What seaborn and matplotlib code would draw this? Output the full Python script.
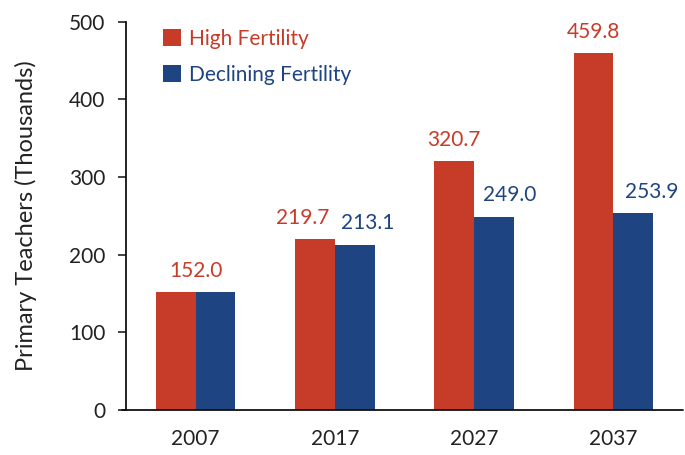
import matplotlib
matplotlib.use("Agg")
import matplotlib.pyplot as plt
import seaborn as sns
import pandas as pd
from matplotlib.patches import Patch

years = ["2007", "2017", "2027", "2037"]
high = [152.0, 219.7, 320.7, 459.8]
declining = [152.0, 213.1, 249.0, 253.9]
series = ["High Fertility", "Declining Fertility"]
colors = ["#C73B29", "#1F4482"]

# label nudges (points) to keep value labels apart, as in the reference
high_dx = [0, -9, 0, 0]
decl_dx = [0, 9, 11, 13]

df = pd.DataFrame({
    "year": years * 2,
    "value": high + declining,
    "series": [series[0]] * 4 + [series[1]] * 4,
})

sns.set_theme(style="white")
plt.rcParams["font.family"] = ["Lato", "DejaVu Sans"]

FS = 15

fig = plt.figure(figsize=(6.85, 4.55), dpi=100)
ax = fig.add_axes([0.184, 0.099, 0.813, 0.853])

sns.barplot(data=df, x="year", y="value", hue="series", palette=colors,
            width=0.57, gap=0, ax=ax, legend=False, saturation=1, linewidth=0)

ax.set_ylim(0, 500)
ax.set_xlim(-0.5, 3.5)
ax.set_yticks([0, 100, 200, 300, 400, 500])
ax.tick_params(axis="y", labelsize=FS, length=6, width=1.2, colors="#222222", pad=9, direction="out", left=True)
ax.tick_params(axis="x", labelsize=FS, length=0, pad=14, colors="#222222")
ax.set_xlabel("")
ax.set_ylabel("Primary Teachers (Thousands)", fontsize=17, color="#222222", labelpad=23)

for s in ["top", "right", "bottom"]:
    ax.spines[s].set_visible(False)
ax.spines["left"].set_color("#111111")
ax.spines["left"].set_linewidth(1.3)
ax.plot([-0.008, 1.0], [0, 0], transform=ax.transAxes, color="#111111", lw=1.3, clip_on=False)

# value labels
off = 0.143
for i, (h, d) in enumerate(zip(high, declining)):
    if h == d:
        ax.annotate(f"{h:.1f}", (i, h), xytext=(0, 11), textcoords="offset points",
                    ha="center", va="baseline", color=colors[0], fontsize=FS)
    else:
        ax.annotate(f"{h:.1f}", (i - off, h), xytext=(high_dx[i], 11), textcoords="offset points",
                    ha="center", va="baseline", color=colors[0], fontsize=FS)
        ax.annotate(f"{d:.1f}", (i + off, d), xytext=(decl_dx[i], 11), textcoords="offset points",
                    ha="center", va="baseline", color=colors[1], fontsize=FS)

# legend
handles = [Patch(facecolor=c, edgecolor="none") for c in colors]
leg = ax.legend(handles, series, loc="upper left", bbox_to_anchor=(0.032, 1.03),
                frameon=False, fontsize=FS, handlelength=0.9, handleheight=0.9,
                handletextpad=0.35, labelspacing=0.75)
for t, c in zip(leg.get_texts(), colors):
    t.set_color(c)

fig.savefig("out.png", dpi=100)
